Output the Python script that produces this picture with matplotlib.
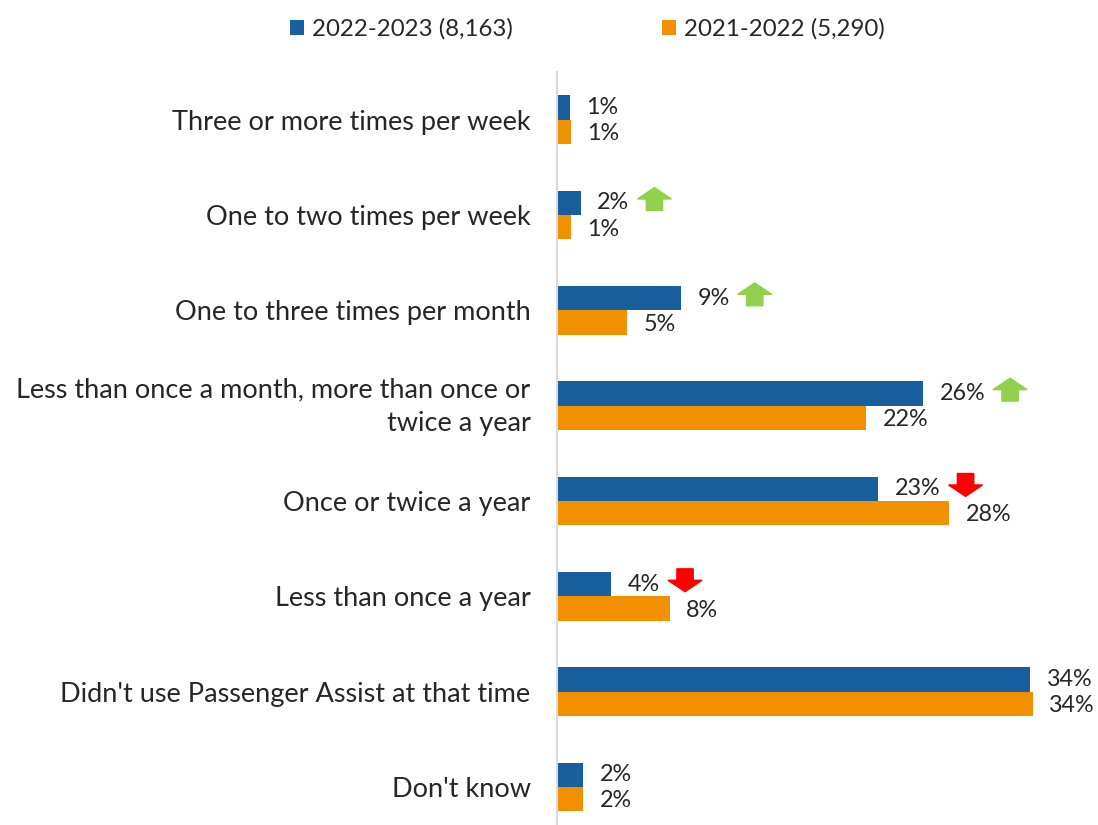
import numpy as np
import matplotlib
matplotlib.use("Agg")
import matplotlib.pyplot as plt
import matplotlib.transforms as mtransforms
from matplotlib.patches import Polygon

plt.rcParams['font.family'] = ['Lato', 'DejaVu Sans']

# ── Data ──────────────────────────────────────────────────────────────────────
categories = [
    "Three or more times per week",
    "One to two times per week",
    "One to three times per month",
    "Less than once a month, more than once or\ntwice a year",
    "Once or twice a year",
    "Less than once a year",
    "Didn't use Passenger Assist at that time",
    "Don't know",
]
values_2223 = [0.9, 1.7, 8.9, 26.3, 23.1, 3.9, 34.0, 1.9]
values_2122 = [1.0, 1.0, 5.0, 22.2, 28.2, 8.1, 34.2, 1.9]
labels_2223 = ["1%", "2%", "9%", "26%", "23%", "4%", "34%", "2%"]
labels_2122 = ["1%", "1%", "5%", "22%", "28%", "8%", "34%", "2%"]
change = [None, "up", "up", "up", "down", "down", None, None]

series_names = ["2022-2023 (8,163)", "2021-2022 (5,290)"]

BLUE = "#175F9E"
ORANGE = "#F29100"
GREEN = "#92D050"
RED = "#FF0000"
TXT = "#262626"

# ── Figure ────────────────────────────────────────────────────────────────────
W, H = 1098, 825
fig = plt.figure(figsize=(W / 100, H / 100), dpi=100)
ax = fig.add_axes([557 / W, 0, 1 - 557 / W, (H - 72) / H])

y = np.arange(len(categories))
bh = 0.255
ax.barh(y - bh / 2, values_2223, height=bh, color=BLUE, label=series_names[0])
ax.barh(y + bh / 2, values_2122, height=bh, color=ORANGE, label=series_names[1])

ax.set_xlim(0, 38.9)
ax.set_ylim(7.4, -0.5)
ax.set_yticks(y)
ax.set_yticklabels(categories, fontsize=19.5, color=TXT,
                   multialignment='right', linespacing=1.45)
ax.tick_params(axis='y', length=0, pad=19)
ax.set_xticks([])
for s in ["top", "right", "bottom"]:
    ax.spines[s].set_visible(False)
ax.spines["left"].set_color("#D9D9D9")
ax.spines["left"].set_linewidth(1.5)

# nudge the two-line label up a little
lbl = ax.get_yticklabels()[3]
lbl.set_transform(lbl.get_transform() +
                  mtransforms.ScaledTranslation(0, 0.06, fig.dpi_scale_trans))

# value labels
pad = 1.2
blue_texts = []
for i, (v, lab) in enumerate(zip(values_2223, labels_2223)):
    t = ax.text(v + pad, i - bh / 2, lab, va='center', ha='left',
                fontsize=16.8, color=TXT)
    blue_texts.append(t)
for i, (v, lab) in enumerate(zip(values_2122, labels_2122)):
    ax.text(v + pad, i + bh / 2 + 0.02, lab, va='center', ha='left',
            fontsize=16.8, color=TXT)

# change arrows next to the 2022-2023 labels
fig.canvas.draw()
renderer = fig.canvas.get_renderer()
inv = ax.transData.inverted()
for i, d in enumerate(change):
    if d is None:
        continue
    bb = blue_texts[i].get_window_extent(renderer)
    x0 = inv.transform((bb.x1 + 8, 0))[0]
    x1 = inv.transform((bb.x1 + 8 + 34, 0))[0]
    xm = (x0 + x1) / 2
    sw = (x1 - x0) * 0.24
    yc = i - bh / 2 - 0.04
    hh = 0.12
    if d == "up":
        pts = [(x0, yc), (xm, yc - hh), (x1, yc), (xm + sw, yc),
               (xm + sw, yc + hh), (xm - sw, yc + hh), (xm - sw, yc)]
        col = GREEN
    else:
        pts = [(x0, yc), (xm, yc + hh), (x1, yc), (xm + sw, yc),
               (xm + sw, yc - hh), (xm - sw, yc - hh), (xm - sw, yc)]
        col = RED
    ax.add_patch(Polygon(pts, closed=True, color=col, clip_on=False))

fig.legend(loc='upper center', bbox_to_anchor=(0.5346, 1.004), ncol=2,
           frameon=False, fontsize=17.3, handlelength=0.62, handleheight=0.62,
           handletextpad=0.3, columnspacing=6.2, labelcolor=TXT)

plt.savefig("out.png", dpi=100)
plt.close()
